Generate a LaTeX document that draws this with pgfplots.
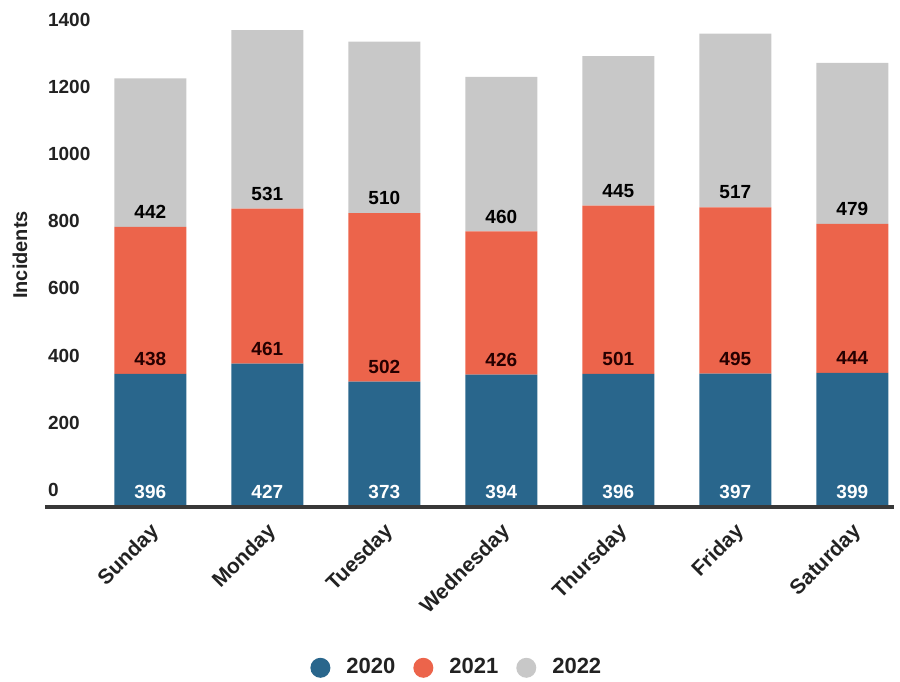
\documentclass[border=0pt]{standalone}
\usepackage{pgfplots}
\usepackage{pgfplotstable}
\pgfplotsset{compat=1.18}
\usepackage{fontspec}
\setmainfont{Liberation Sans}
\definecolor{c20}{HTML}{29668C}
\definecolor{c21}{HTML}{EC644B}
\definecolor{c22}{HTML}{C8C8C8}
\definecolor{txt}{HTML}{222222}
\pgfplotstableread{
idx a b c
0 396 438 442
1 427 461 531
2 373 502 510
3 394 426 460
4 396 501 445
5 397 495 517
6 399 444 479
}\data
\pgfplotsset{
  /pgf/number format/assume math mode=true,
  /pgf/number format/1000 sep={},
  common/.style={
    x=58.5pt, y=0.168pt,
    xmin=-0.9, xmax=6.36, ymin=0, ymax=1420,
    at={(22.5pt,87pt)}, anchor=south west,
    axis line style={draw=none},
    major tick length=0pt,
    clip=false,
  },
}
\begin{document}
\begin{tikzpicture}
\useasboundingbox (0,0) rectangle (450pt,340.5pt);
\begin{axis}[common,
  ybar stacked, bar width=36pt,
  xtick={0,...,6},
  xticklabels={Sunday,Monday,Tuesday,Wednesday,Thursday,Friday,Saturday},
  xticklabel style={rotate=45, anchor=north east, font=\bfseries\fontsize{10.5}{10.5}\selectfont, text=txt, xshift=-2.2pt, yshift=-1.2pt},
  ytick={0,200,...,1400},
  yticklabel style={anchor=west, yshift=8.5pt, xshift=-2pt, font=\bfseries\fontsize{9.5}{9.5}\selectfont, text=txt},
  legend columns=3,
  legend style={at={(axis description cs:0.486,-0.337)}, anchor=center, draw=none, fill=none,
    font=\bfseries\fontsize{11}{11}\selectfont, text=txt,
    /tikz/every odd column/.append style={column sep=6pt},
    /tikz/every even column/.append style={column sep=7pt}},
  legend image code/.code={\fill[#1] (2pt,0pt) circle (5pt);},
]
\draw[line width=1.6pt, color=txt!90] (axis cs:-0.9,0) -- (axis cs:6.36,0);
\addplot[fill=c20, draw=none] table[x=idx, y=a] {\data};
\addplot[fill=c21, draw=none] table[x=idx, y=b] {\data};
\addplot[fill=c22, draw=none] table[x=idx, y=c] {\data};
\legend{2020,2021,2022}
\end{axis}
\begin{axis}[common, xtick=\empty, ytick=\empty,
  every node near coord/.append style={anchor=center, yshift=7.5pt, font=\bfseries\fontsize{9.5}{9.5}\selectfont}]
\addplot[draw=none, nodes near coords, point meta=explicit, every node near coord/.append style={text=white}]
  table[x=idx, y expr=0, meta=a] {\data};
\addplot[draw=none, nodes near coords, point meta=explicit, every node near coord/.append style={text=black!85!red}]
  table[x=idx, y=a, meta=b] {\data};
\addplot[draw=none, nodes near coords, point meta=explicit, every node near coord/.append style={text=black}]
  table[x=idx, y expr=\thisrow{a}+\thisrow{b}, meta=c] {\data};
\end{axis}
\node[rotate=90, font=\bfseries\fontsize{10}{10}\selectfont, text=txt] at (10pt,213pt) {Incidents};
\end{tikzpicture}
\end{document}
